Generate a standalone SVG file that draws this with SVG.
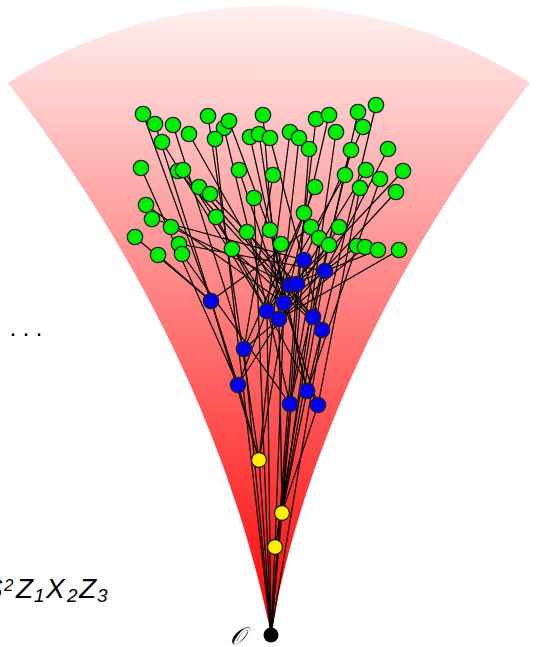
<svg xmlns="http://www.w3.org/2000/svg" width="537" height="647" viewBox="0 0 537 647">
<defs>
<linearGradient id="fan" gradientUnits="userSpaceOnUse" x1="0" y1="6" x2="0" y2="634">
<stop offset="0" stop-color="#fff0f0"/>
<stop offset="1" stop-color="#ff0000"/>
</linearGradient>
<style>
.e{stroke:#000;stroke-width:1.2;fill:none}
.g{fill:#00ee00;stroke:#222;stroke-width:1.3}
.b{fill:#0000ee;stroke:#222;stroke-width:1.3}
.y{fill:#ffee00;stroke:#222;stroke-width:1.3}
.o{fill:#000}
.t{font-family:"Liberation Sans","DejaVu Sans",sans-serif;font-style:italic;fill:#000}
</style>
</defs>
<rect width="537" height="647" fill="#fff"/>
<path id="fan-shape" d="M271 634 C252 545 200 330 8 83 A481 481 0 0 1 530 83 C338 330 286 545 271 634 Z" fill="url(#fan)"/>
<g id="connectors" class="e">
<line x1="143" y1="114" x2="211" y2="301"/>
<line x1="155" y1="124" x2="238" y2="385"/>
<line x1="173" y1="125" x2="244" y2="349"/>
<line x1="162" y1="142" x2="267" y2="311"/>
<line x1="189" y1="134" x2="284" y2="303"/>
<line x1="208" y1="116" x2="259" y2="460"/>
<line x1="224" y1="128" x2="290" y2="404"/>
<line x1="229" y1="121" x2="290" y2="285"/>
<line x1="215" y1="139" x2="271" y2="635"/>
<line x1="263" y1="115" x2="279" y2="319"/>
<line x1="250" y1="137" x2="307" y2="391"/>
<line x1="259" y1="134" x2="284" y2="303"/>
<line x1="270" y1="138" x2="322" y2="330"/>
<line x1="290" y1="132" x2="267" y2="311"/>
<line x1="299" y1="138" x2="279" y2="319"/>
<line x1="309" y1="149" x2="290" y2="404"/>
<line x1="316" y1="119" x2="297" y2="284"/>
<line x1="329" y1="115" x2="290" y2="285"/>
<line x1="336" y1="132" x2="282" y2="513"/>
<line x1="358" y1="112" x2="313" y2="317"/>
<line x1="376" y1="105" x2="307" y2="391"/>
<line x1="363" y1="127" x2="304" y2="260"/>
<line x1="351" y1="150" x2="290" y2="404"/>
<line x1="388" y1="149" x2="325" y2="271"/>
<line x1="141" y1="168" x2="238" y2="385"/>
<line x1="178" y1="171" x2="322" y2="330"/>
<line x1="183" y1="170" x2="279" y2="319"/>
<line x1="239" y1="170" x2="318" y2="405"/>
<line x1="273" y1="175" x2="244" y2="349"/>
<line x1="199" y1="187" x2="313" y2="317"/>
<line x1="210" y1="194" x2="297" y2="284"/>
<line x1="254" y1="198" x2="271" y2="635"/>
<line x1="315" y1="187" x2="238" y2="385"/>
<line x1="345" y1="175" x2="267" y2="311"/>
<line x1="366" y1="170" x2="284" y2="303"/>
<line x1="380" y1="179" x2="307" y2="391"/>
<line x1="403" y1="171" x2="297" y2="284"/>
<line x1="360" y1="188" x2="318" y2="405"/>
<line x1="396" y1="192" x2="279" y2="319"/>
<line x1="146" y1="205" x2="284" y2="303"/>
<line x1="152" y1="219" x2="304" y2="260"/>
<line x1="171" y1="227" x2="290" y2="285"/>
<line x1="135" y1="237" x2="211" y2="301"/>
<line x1="179" y1="244" x2="325" y2="271"/>
<line x1="182" y1="254" x2="290" y2="404"/>
<line x1="158" y1="255" x2="211" y2="301"/>
<line x1="216" y1="217" x2="318" y2="405"/>
<line x1="304" y1="213" x2="244" y2="349"/>
<line x1="311" y1="227" x2="211" y2="301"/>
<line x1="339" y1="227" x2="238" y2="385"/>
<line x1="319" y1="238" x2="290" y2="404"/>
<line x1="329" y1="245" x2="267" y2="311"/>
<line x1="247" y1="232" x2="313" y2="317"/>
<line x1="270" y1="230" x2="307" y2="391"/>
<line x1="281" y1="244" x2="259" y2="460"/>
<line x1="232" y1="249" x2="322" y2="330"/>
<line x1="357" y1="246" x2="284" y2="303"/>
<line x1="365" y1="247" x2="244" y2="349"/>
<line x1="378" y1="250" x2="290" y2="285"/>
<line x1="399" y1="250" x2="279" y2="319"/>
<line x1="304" y1="260" x2="282" y2="513"/>
<line x1="325" y1="271" x2="282" y2="513"/>
<line x1="290" y1="285" x2="259" y2="460"/>
<line x1="297" y1="284" x2="271" y2="635"/>
<line x1="211" y1="301" x2="259" y2="460"/>
<line x1="284" y1="303" x2="275" y2="547"/>
<line x1="267" y1="311" x2="271" y2="635"/>
<line x1="279" y1="319" x2="282" y2="513"/>
<line x1="313" y1="317" x2="275" y2="547"/>
<line x1="322" y1="330" x2="271" y2="635"/>
<line x1="244" y1="349" x2="271" y2="635"/>
<line x1="238" y1="385" x2="259" y2="460"/>
<line x1="307" y1="391" x2="282" y2="513"/>
<line x1="290" y1="404" x2="271" y2="635"/>
<line x1="318" y1="405" x2="282" y2="513"/>
<line x1="259" y1="460" x2="271" y2="635"/>
<line x1="282" y1="513" x2="271" y2="635"/>
<line x1="275" y1="547" x2="271" y2="635"/>
</g>
<g id="g1"><circle class="g" cx="143" cy="114" r="7.7"/></g>
<g id="g2"><circle class="g" cx="155" cy="124" r="7.7"/></g>
<g id="g3"><circle class="g" cx="173" cy="125" r="7.7"/></g>
<g id="g4"><circle class="g" cx="162" cy="142" r="7.7"/></g>
<g id="g5"><circle class="g" cx="189" cy="134" r="7.7"/></g>
<g id="g6"><circle class="g" cx="208" cy="116" r="7.7"/></g>
<g id="g7"><circle class="g" cx="224" cy="128" r="7.7"/></g>
<g id="g8"><circle class="g" cx="229" cy="121" r="7.7"/></g>
<g id="g9"><circle class="g" cx="215" cy="139" r="7.7"/></g>
<g id="g10"><circle class="g" cx="263" cy="115" r="7.7"/></g>
<g id="g11"><circle class="g" cx="250" cy="137" r="7.7"/></g>
<g id="g12"><circle class="g" cx="259" cy="134" r="7.7"/></g>
<g id="g13"><circle class="g" cx="270" cy="138" r="7.7"/></g>
<g id="g14"><circle class="g" cx="290" cy="132" r="7.7"/></g>
<g id="g15"><circle class="g" cx="299" cy="138" r="7.7"/></g>
<g id="g16"><circle class="g" cx="309" cy="149" r="7.7"/></g>
<g id="g17"><circle class="g" cx="316" cy="119" r="7.7"/></g>
<g id="g18"><circle class="g" cx="329" cy="115" r="7.7"/></g>
<g id="g19"><circle class="g" cx="336" cy="132" r="7.7"/></g>
<g id="g20"><circle class="g" cx="358" cy="112" r="7.7"/></g>
<g id="g21"><circle class="g" cx="376" cy="105" r="7.7"/></g>
<g id="g22"><circle class="g" cx="363" cy="127" r="7.7"/></g>
<g id="g23"><circle class="g" cx="351" cy="150" r="7.7"/></g>
<g id="g24"><circle class="g" cx="388" cy="149" r="7.7"/></g>
<g id="g25"><circle class="g" cx="141" cy="168" r="7.7"/></g>
<g id="g26"><circle class="g" cx="178" cy="171" r="7.7"/></g>
<g id="g27"><circle class="g" cx="183" cy="170" r="7.7"/></g>
<g id="g28"><circle class="g" cx="239" cy="170" r="7.7"/></g>
<g id="g29"><circle class="g" cx="273" cy="175" r="7.7"/></g>
<g id="g30"><circle class="g" cx="199" cy="187" r="7.7"/></g>
<g id="g31"><circle class="g" cx="210" cy="194" r="7.7"/></g>
<g id="g32"><circle class="g" cx="254" cy="198" r="7.7"/></g>
<g id="g33"><circle class="g" cx="315" cy="187" r="7.7"/></g>
<g id="g34"><circle class="g" cx="345" cy="175" r="7.7"/></g>
<g id="g35"><circle class="g" cx="366" cy="170" r="7.7"/></g>
<g id="g36"><circle class="g" cx="380" cy="179" r="7.7"/></g>
<g id="g37"><circle class="g" cx="403" cy="171" r="7.7"/></g>
<g id="g38"><circle class="g" cx="360" cy="188" r="7.7"/></g>
<g id="g39"><circle class="g" cx="396" cy="192" r="7.7"/></g>
<g id="g40"><circle class="g" cx="146" cy="205" r="7.7"/></g>
<g id="g41"><circle class="g" cx="152" cy="219" r="7.7"/></g>
<g id="g42"><circle class="g" cx="171" cy="227" r="7.7"/></g>
<g id="g43"><circle class="g" cx="135" cy="237" r="7.7"/></g>
<g id="g44"><circle class="g" cx="179" cy="244" r="7.7"/></g>
<g id="g45"><circle class="g" cx="182" cy="254" r="7.7"/></g>
<g id="g46"><circle class="g" cx="158" cy="255" r="7.7"/></g>
<g id="g47"><circle class="g" cx="216" cy="217" r="7.7"/></g>
<g id="g48"><circle class="g" cx="304" cy="213" r="7.7"/></g>
<g id="g49"><circle class="g" cx="311" cy="227" r="7.7"/></g>
<g id="g50"><circle class="g" cx="339" cy="227" r="7.7"/></g>
<g id="g51"><circle class="g" cx="319" cy="238" r="7.7"/></g>
<g id="g52"><circle class="g" cx="329" cy="245" r="7.7"/></g>
<g id="g53"><circle class="g" cx="247" cy="232" r="7.7"/></g>
<g id="g54"><circle class="g" cx="270" cy="230" r="7.7"/></g>
<g id="g55"><circle class="g" cx="281" cy="244" r="7.7"/></g>
<g id="g56"><circle class="g" cx="232" cy="249" r="7.7"/></g>
<g id="g57"><circle class="g" cx="357" cy="246" r="7.7"/></g>
<g id="g58"><circle class="g" cx="365" cy="247" r="7.7"/></g>
<g id="g59"><circle class="g" cx="378" cy="250" r="7.7"/></g>
<g id="g60"><circle class="g" cx="399" cy="250" r="7.7"/></g>
<g id="b1"><circle class="b" cx="304" cy="260" r="7.7"/></g>
<g id="b2"><circle class="b" cx="325" cy="271" r="7.7"/></g>
<g id="b3"><circle class="b" cx="290" cy="285" r="7.7"/></g>
<g id="b4"><circle class="b" cx="297" cy="284" r="7.7"/></g>
<g id="b5"><circle class="b" cx="211" cy="301" r="7.7"/></g>
<g id="b6"><circle class="b" cx="284" cy="303" r="7.7"/></g>
<g id="b7"><circle class="b" cx="267" cy="311" r="7.7"/></g>
<g id="b8"><circle class="b" cx="279" cy="319" r="7.7"/></g>
<g id="b9"><circle class="b" cx="313" cy="317" r="7.7"/></g>
<g id="b10"><circle class="b" cx="322" cy="330" r="7.7"/></g>
<g id="b11"><circle class="b" cx="244" cy="349" r="7.7"/></g>
<g id="b12"><circle class="b" cx="238" cy="385" r="7.7"/></g>
<g id="b13"><circle class="b" cx="307" cy="391" r="7.7"/></g>
<g id="b14"><circle class="b" cx="290" cy="404" r="7.7"/></g>
<g id="b15"><circle class="b" cx="318" cy="405" r="7.7"/></g>
<g id="y1"><circle class="y" cx="259" cy="460" r="7.5"/></g>
<g id="y2"><circle class="y" cx="282" cy="513" r="7.5"/></g>
<g id="y3"><circle class="y" cx="275" cy="547" r="7.5"/></g>
<g id="origin"><circle class="o" cx="271" cy="635" r="7.5"/><text class="t" x="230" y="644" font-family="Liberation Serif" font-size="24">𝒪</text></g>
<text id="dots" x="9 22 35" y="341" font-family="Liberation Sans" font-size="24" fill="#000">···</text>
<text id="word" class="t" font-size="28"><tspan x="-16" y="598">S</tspan><tspan x="4" y="591" font-size="17">2</tspan><tspan x="16" y="598">Z</tspan><tspan x="34" y="602" font-size="19">1</tspan><tspan x="46" y="598">X</tspan><tspan x="67" y="602" font-size="19">2</tspan><tspan x="79" y="598">Z</tspan><tspan x="97" y="602" font-size="19">3</tspan></text>
</svg>
